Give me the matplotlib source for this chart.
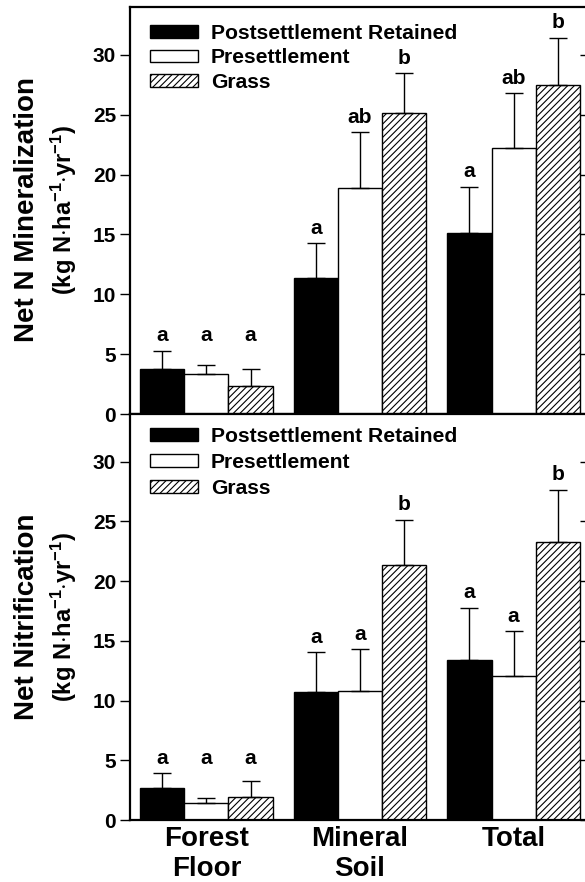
import matplotlib
matplotlib.use("Agg")
import matplotlib.pyplot as plt
import numpy as np

plt.rcParams['font.family'] = ['Liberation Sans', 'DejaVu Sans']
plt.rcParams['font.weight'] = 'bold'
plt.rcParams['mathtext.fontset'] = 'custom'
plt.rcParams['mathtext.rm'] = 'Liberation Sans:bold'
plt.rcParams['mathtext.it'] = 'Liberation Sans:bold'
plt.rcParams['mathtext.bf'] = 'Liberation Sans:bold'
plt.rcParams['hatch.linewidth'] = 0.8

categories = ["Forest\nFloor", "Mineral\nSoil", "Total"]
series = ["Postsettlement Retained", "Presettlement", "Grass"]

# Net N mineralization (mean, SE) per series across categories
min_post = [3.8, 11.4, 15.1]
min_post_err = [1.5, 2.85, 3.9]
min_pre = [3.3, 18.9, 22.2]
min_pre_err = [0.8, 4.65, 4.6]
min_grass = [2.35, 25.15, 27.5]
min_grass_err = [1.45, 3.3, 3.95]
min_letters = [["a", "a", "a"], ["a", "ab", "ab"], ["a", "b", "b"]]

# Net nitrification
nit_post = [2.65, 10.75, 13.4]
nit_post_err = [1.25, 3.3, 4.35]
nit_pre = [1.4, 10.8, 12.1]
nit_pre_err = [0.47, 3.5, 3.7]
nit_grass = [1.95, 21.35, 23.25]
nit_grass_err = [1.35, 3.8, 4.4]
nit_letters = [["a", "a", "a"], ["a", "a", "a"], ["a", "b", "b"]]

yticks = [0, 5, 10, 15, 20, 25, 30]
unit = "(kg N$\\cdot$ha$^{-1}$$\\cdot$yr$^{-1}$)"
ylabels = ["Net N Mineralization", "Net Nitrification"]

W, H = 585, 882
fig = plt.figure(figsize=(W / 100, H / 100), dpi=100)
left = 130 / W
right = 590 / W
ax1 = fig.add_axes([left, 1 - 414 / H, right - left, (414 - 7) / H])
ax2 = fig.add_axes([left, 1 - 820 / H, right - left, (820 - 414) / H])

x = np.arange(len(categories))
w = 0.288
styles = [dict(color="black", edgecolor="black"),
          dict(color="white", edgecolor="black"),
          dict(color="white", edgecolor="black", hatch="/////")]


def panel(ax, vals, errs, letters, ylabel, legend_y, center_y, lspace):
    for i, (v, e) in enumerate(zip(vals, errs)):
        pos = x + (i - 1) * w
        ax.bar(pos, v, w, linewidth=1.0, label=series[i], **styles[i])
        ax.errorbar(pos, v, yerr=[np.zeros(len(v)), e], fmt="none",
                    ecolor="black", elinewidth=1.0, capsize=6.5, capthick=1.0)
    tops = np.array([np.array(v) + np.array(e) for v, e in zip(vals, errs)])
    for g in range(len(categories)):
        for i in range(len(series)):
            yt = tops[:, g].max() if g == 0 else tops[i, g]
            ax.annotate(letters[i][g], (x[g] + (i - 1) * w, yt),
                        xytext=(0, 4), textcoords="offset points",
                        ha="center", va="bottom", fontsize=15, fontweight="bold")
    ax.set_xlim(-0.497, 2.497)
    ax.set_ylim(0, 34)
    ax.set_yticks(yticks)
    ax.tick_params(axis="y", which="both", direction="out", length=7, width=1.0,
                   labelsize=15, right=True, pad=3)
    for s in ax.spines.values():
        s.set_linewidth(1.6)
    fig.text(27 / W, 1 - center_y / H, ylabel, rotation=90, ha="center", va="center",
             fontsize=20, fontweight="bold")
    fig.text(64 / W, 1 - center_y / H, unit, rotation=90, ha="center", va="center",
             fontsize=17, fontweight="bold")
    leg = ax.legend(loc="upper left", bbox_to_anchor=(0.015, legend_y), frameon=False,
                    fontsize=15.2, handlelength=2.3, handleheight=0.55,
                    labelspacing=lspace, handletextpad=0.6, borderaxespad=0.2)
    for t in leg.get_texts():
        t.set_fontweight("bold")


panel(ax1, [min_post, min_pre, min_grass], [min_post_err, min_pre_err, min_grass_err],
      min_letters, ylabels[0], 0.99, 210, 0.27)
panel(ax2, [nit_post, nit_pre, nit_grass], [nit_post_err, nit_pre_err, nit_grass_err],
      nit_letters, ylabels[1], 1.0, 617, 0.34)

for ax in (ax1, ax2):
    for t in ax.yaxis.get_ticklines()[1::2]:
        t.set_marker(matplotlib.lines.TICKLEFT)

ax1.set_xticks([])
ax2.set_xticks(x)
ax2.set_xticklabels(categories, fontsize=20, fontweight="bold", linespacing=1.2)
ax2.tick_params(axis="x", length=0, pad=4)

fig.savefig("out.png", dpi=100)
